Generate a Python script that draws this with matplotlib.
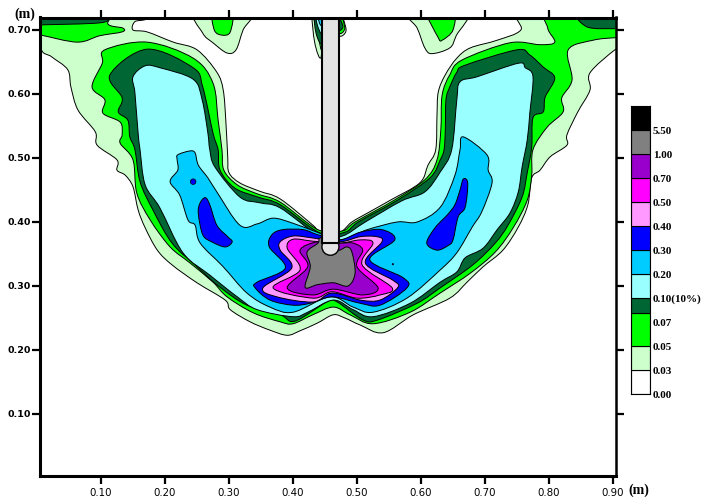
import matplotlib
matplotlib.use("Agg")
import matplotlib.pyplot as plt
from matplotlib.patches import Circle, PathPatch, Rectangle
from matplotlib.path import Path

# contour outlines in metres
level_003 = [(.005,.731),(.006,.672),(.023,.658),(.048,.638),(.053,.611),(.064,.575),(.091,.541),(.094,.520),
    (.125,.497),(.125,.481),(.138,.473),(.150,.455),(.158,.419),(.169,.391),(.188,.356),(.211,.333),(.250,.305),
    (.294,.278),(.302,.263),(.333,.244),(.364,.231),(.391,.223),(.411,.230),(.438,.242),(.463,.255),(.481,.250),
    (.505,.239),(.541,.227),(.588,.255),(.645,.281),(.672,.306),(.697,.330),(.728,.356),(.752,.392),(.767,.427),
    (.773,.469),(.786,.481),(.802,.502),(.828,.520),(.828,.536),(.845,.572),(.864,.606),(.864,.633),(.903,.669),
    (.911,.669),(.911,.731),(.758,.731),(.756,.700),(.719,.684),(.677,.672),(.656,.656),(.638,.630),(.627,.603),
    (.625,.567),(.623,.513),(.611,.489),(.598,.461),(.552,.434),(.520,.416),(.492,.400),(.473,.384),(.442,.384),
    (.431,.395),(.380,.436),(.348,.448),(.317,.461),(.300,.477),(.298,.502),(.295,.559),(.291,.606),(.281,.634),
    (.250,.669),(.213,.681),(.172,.697),(.150,.700),(.153,.713),(.170,.717),(.170,.731)]
level_005 = [(.106,.669),(.102,.648),(.086,.611),(.106,.591),(.103,.570),(.130,.556),(.133,.536),(.130,.523),
    (.150,.497),(.156,.445),(.177,.403),(.208,.361),(.239,.336),(.275,.306),(.297,.283),(.338,.258),(.380,.244),
    (.400,.241),(.431,.255),(.463,.267),(.489,.255),(.525,.241),(.583,.259),(.630,.289),(.677,.320),(.716,.353),
    (.744,.391),(.766,.434),(.773,.473),(.775,.513),(.797,.548),(.822,.572),(.820,.594),(.836,.622),(.830,.669),
    (.869,.684),(.905,.688),(.919,.688),(.919,.731),(.802,.731),(.798,.703),(.809,.681),(.786,.677),(.739,.680),
    (.664,.653),(.645,.630),(.633,.598),(.631,.544),(.625,.497),(.606,.466),(.558,.434),(.497,.400),(.477,.386),
    (.439,.388),(.380,.431),(.344,.444),(.313,.458),(.292,.481),(.289,.513),(.283,.559),(.275,.617),(.244,.656),
    (.172,.681)]
level_007 = [(.114,.630),(.133,.594),(.127,.572),(.142,.559),(.145,.533),(.153,.513),(.161,.463),(.181,.419),
    (.211,.367),(.250,.330),(.286,.298),(.328,.270),(.380,.255),(.403,.245),(.453,.275),(.469,.275),(.509,.247),
    (.533,.247),(.594,.273),(.630,.297),(.681,.333),(.716,.367),(.736,.395),(.758,.439),(.766,.477),(.773,.517),
    (.775,.563),(.791,.572),(.794,.595),(.809,.625),(.791,.642),(.770,.661),(.750,.669),(.669,.645),(.656,.634),
    (.645,.611),(.639,.591),(.638,.544),(.636,.513),(.630,.497),(.614,.469),(.563,.434),(.502,.400),(.481,.384),
    (.442,.383),(.380,.427),(.345,.439),(.309,.453),(.286,.481),(.283,.513),(.275,.539),(.259,.611),(.244,.641),
    (.172,.670)]
level_010 = [(.150,.627),(.153,.602),(.158,.539),(.161,.513),(.169,.458),(.192,.422),(.228,.352),(.270,.317),
    (.313,.283),(.344,.263),(.400,.252),(.423,.259),(.463,.278),(.494,.263),(.525,.252),(.583,.273),(.630,.306),
    (.656,.322),(.669,.344),(.697,.359),(.719,.388),(.739,.414),(.752,.447),(.758,.486),(.766,.528),(.770,.570),
    (.775,.627),(.763,.641),(.752,.648),(.688,.627),(.661,.619),(.656,.591),(.648,.513),(.630,.478),(.606,.447),
    (.570,.433),(.513,.400),(.477,.378),(.442,.378),(.380,.422),(.348,.430),(.317,.439),(.278,.486),(.270,.513),
    (.267,.539),(.258,.591),(.244,.623),(.192,.641),(.169,.644)]
level_020 = [(.220,.505),(.239,.511),(.247,.508),(.252,.489),(.267,.469),(.281,.447),(.317,.395),(.344,.397),
    (.369,.406),(.400,.398),(.438,.384),(.473,.372),(.516,.388),(.563,.400),(.594,.400),(.630,.423),(.653,.473),
    (.661,.513),(.666,.533),(.703,.505),(.705,.481),(.711,.461),(.695,.416),(.680,.392),(.656,.352),(.630,.325),
    (.578,.281),(.525,.259),(.494,.267),(.458,.283),(.400,.259),(.364,.267),(.328,.289),(.291,.330),(.255,.367),
    (.247,.395),(.236,.403),(.223,.442),(.208,.463),(.220,.481),(.219,.497)]
level_030 = [(.439,.380),(.416,.388),(.384,.388),(.367,.380),(.363,.361),(.388,.328),(.344,.306),(.341,.297),
    (.364,.278),(.400,.270),(.427,.273),(.461,.283),(.505,.273),(.536,.270),(.578,.297),(.572,.313),(.520,.341),
    (.559,.372),(.539,.388),(.505,.384),(.473,.372)]
level_040 = [(.431,.375),(.400,.378),(.380,.369),(.380,.356),(.398,.328),(.353,.297),(.375,.283),(.431,.275),
    (.461,.289),(.505,.278),(.536,.278),(.564,.298),(.556,.309),(.513,.336),(.539,.369),(.531,.377),(.505,.377),
    (.473,.369)]
level_050 = [(.431,.370),(.400,.373),(.391,.359),(.411,.325),(.369,.297),(.431,.281),(.461,.291),(.500,.281),
    (.536,.286),(.555,.297),(.508,.333),(.525,.367),(.505,.372),(.473,.367)]
level_070 = [(.438,.369),(.411,.356),(.423,.330),(.391,.297),(.431,.286),(.463,.295),(.509,.286),(.533,.297),
    (.500,.330),(.509,.356),(.494,.367),(.473,.367)]
level_100 = [(.442,.375),(.439,.367),(.422,.353),(.427,.330),(.419,.298),(.438,.302),(.463,.305),(.486,.300),
    (.497,.320),(.492,.353),(.484,.361),(.470,.356),(.458,.372)]
blue_left = [(.263,.438),(.255,.430),(.252,.414),(.259,.380),(.273,.369),(.294,.361),(.305,.369),(.298,.377),
    (.281,.395),(.270,.427)]
blue_right = [(.666,.467),(.673,.461),(.669,.423),(.658,.408),(.650,.372),(.642,.363),(.625,.356),(.609,.367),
    (.622,.391),(.641,.411),(.653,.427),(.661,.450)]
blue_dots_x = [.244, .556]
blue_dots_y = [.463, .334]
blue_dots_size = [16, 1]

# blobs along the top edge
dark_top_left = [(.0,.731),(.113,.731),(.113,.719),(.097,.711),(.006,.708),(.0,.708)]
green_top_left = [(.0,.731),(.109,.731),(.111,.709),(.134,.703),(.133,.697),(.098,.691),(.063,.681),(.006,.692),(.0,.692)]
dark_top_right = [(.844,.731),(.859,.705),(.905,.702),(.92,.702),(.92,.731)]
light_blob_l = [(.247,.731),(.259,.695),(.275,.680),(.297,.664),(.311,.669),(.322,.700),(.336,.731)]
green_blob_l = [(.275,.731),(.277,.700),(.289,.692),(.302,.697),(.305,.731)]
light_blob_r = [(.578,.731),(.594,.703),(.606,.672),(.617,.663),(.645,.672),(.655,.691),(.672,.731)]
green_blob_r = [(.609,.731),(.627,.688),(.633,.684),(.650,.700),(.650,.731)]
probe_l_light = [(.430,.731),(.434,.680),(.444,.658),(.445,.731)]
probe_l_green = [(.431,.731),(.439,.692),(.445,.670),(.445,.731)]
probe_l_dark = [(.433,.731),(.436,.695),(.445,.680),(.445,.731)]
probe_l_pale = [(.435,.731),(.438,.708),(.445,.695),(.445,.731)]
probe_l_cyan = [(.438,.731),(.441,.712),(.445,.708),(.445,.731)]
probe_r_light = [(.472,.731),(.483,.700),(.472,.692)]
probe_r_green = [(.472,.731),(.481,.703),(.472,.696)]
probe_r_dark = [(.472,.719),(.478,.705),(.472,.700)]

WHITE = "#FFFFFF"
LIGHT = "#CCFFCC"
GREEN = "#00FF00"
DARK = "#006633"
PALE = "#99FFFF"
CYAN = "#00CCFF"
BLUE = "#0000FF"
PINK = "#FF99FF"
MAGENTA = "#FF00FF"
PURPLE = "#9900CC"
GRAY = "#808080"
BLACK = "#000000"

layers = [(level_003, LIGHT), (light_blob_l, LIGHT), (light_blob_r, LIGHT), (probe_l_light, LIGHT), (probe_r_light, LIGHT),
          (green_top_left, GREEN), (green_blob_l, GREEN), (green_blob_r, GREEN), (level_005, GREEN), (probe_l_green, GREEN), (probe_r_green, GREEN),
          (dark_top_left, DARK), (dark_top_right, DARK), (level_007, DARK), (probe_l_dark, DARK), (probe_r_dark, DARK),
          (level_010, PALE), (probe_l_pale, PALE),
          (level_020, CYAN), (probe_l_cyan, CYAN),
          (level_030, BLUE), (blue_left, BLUE), (blue_right, BLUE),
          (level_040, PINK), (level_050, MAGENTA), (level_070, PURPLE), (level_100, GRAY)]

x_ticks = [0.10, 0.20, 0.30, 0.40, 0.50, 0.60, 0.70, 0.80, 0.90]
y_ticks = [0.10, 0.20, 0.30, 0.40, 0.50, 0.60, 0.70]

bar_colors = [WHITE, LIGHT, GREEN, DARK, PALE, CYAN, BLUE, PINK, MAGENTA, PURPLE, GRAY, BLACK]
bar_edges = [0, 1, 2, 3.375, 4, 5, 6, 7, 8, 9, 10, 11, 12]
bar_labels = ["0.00", "0.03", "0.05", "0.07", "0.10(10%)", "0.20", "0.30", "0.40", "0.50", "0.70", "1.00", "5.50"]


def smooth_path(outline):
    # closed bezier through the outline points, contours in the original are curved
    n = len(outline)
    verts = [outline[0]]
    codes = [Path.MOVETO]
    for i in range(n):
        p0, p1, p2, p3 = outline[i - 1], outline[i], outline[(i + 1) % n], outline[(i + 2) % n]
        c1 = (p1[0] + (p2[0] - p0[0]) / 6, p1[1] + (p2[1] - p0[1]) / 6)
        c2 = (p2[0] - (p3[0] - p1[0]) / 6, p2[1] - (p3[1] - p1[1]) / 6)
        verts += [c1, c2, p2]
        codes += [Path.CURVE4] * 3
    return Path(verts, codes)


W, H = 703, 501
fig = plt.figure(figsize=(W / 100, H / 100), dpi=100)
ax = fig.add_axes([40 / W, 1 - 476 / H, 576 / W, 458.5 / H])
ax.set_xlim(0.0047, 0.9047)
ax.set_ylim(0.0031, 0.7195)

for outline, color in layers:
    ax.add_patch(PathPatch(smooth_path(outline), facecolor=color, edgecolor="black", linewidth=0.7))
ax.scatter(blue_dots_x, blue_dots_y, s=blue_dots_size, c=BLUE, edgecolors="black", linewidths=0.5, zorder=3)

# probe
ax.add_patch(Circle((0.4585, 0.3613), 0.0133, facecolor="#E3E3E3", edgecolor="black", linewidth=1.0, zorder=4))
ax.add_patch(Rectangle((0.4452, 0.367), 0.0266, 0.4, facecolor="#E3E3E3", edgecolor="black", linewidth=1.5, zorder=5))

ax.set_xticks(x_ticks, [f"{v:.2f}" for v in x_ticks])
ax.set_yticks(y_ticks, [f"{v:.2f}" for v in y_ticks])
ax.tick_params(axis="x", which="major", top=True, direction="out", length=6, width=1.6, labelsize=7.4, pad=3)
ax.tick_params(axis="y", which="major", right=True, direction="out", length=6, width=1.6, labelsize=6.8, pad=0.5)
for label in ax.get_yticklabels():
    label.set_fontweight("bold")
for side, lw in [("left", 2.2), ("bottom", 2.2), ("top", 2.2), ("right", 1.8)]:
    ax.spines[side].set_linewidth(lw)
    ax.spines[side].set_zorder(6)

# colour key
cax = fig.add_axes([631 / W, 1 - 394 / H, 19 / W, 288 / H])
cax.set_xlim(0, 1)
cax.set_ylim(0, 12)
for i, color in enumerate(bar_colors):
    cax.bar(0.5, bar_edges[i + 1] - bar_edges[i], width=1, bottom=bar_edges[i], color=color, edgecolor="black", linewidth=0.8)
cax.set_xticks([])
cax.yaxis.tick_right()
cax.set_yticks(range(12), bar_labels, family="Liberation Serif", fontweight="bold", fontsize=8)
cax.tick_params(axis="y", length=0, pad=2.2)
for spine in cax.spines.values():
    spine.set_linewidth(0.8)

fig.text(14 / W, 1 - 14 / H, "(m)", family="Liberation Serif", fontweight="bold", fontsize=10, va="center")
fig.text(628 / W, 1 - 490 / H, "(m)", family="Liberation Serif", fontweight="bold", fontsize=10, va="center")

fig.savefig("out.png", dpi=100)
